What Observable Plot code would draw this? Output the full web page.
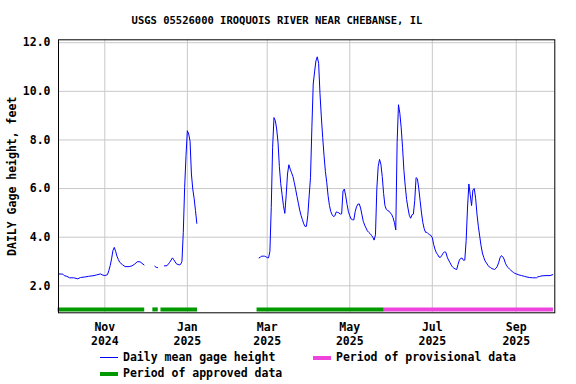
<!DOCTYPE html>
<html>
<head>
<meta charset="utf-8">
<script src="https://cdn.jsdelivr.net/npm/d3@7"></script>
<script src="https://cdn.jsdelivr.net/npm/@observablehq/plot@0.6"></script>
<style>
  body { margin: 0; background: #fff; }
  #wrap { position: relative; width: 576px; height: 384px; overflow: hidden; background: #fff;
          font-family: "DejaVu Sans Mono", monospace; font-weight: bold; color: #000; }
  #title { position: absolute; left: 0; width: 554px; top: 12px; line-height: 16px; font-size: 10.5px; text-align: center; padding-left: 0; }
  #chart { position: absolute; left: 0; top: 30px; }
  .lt { position: absolute; font-size: 11.5px; line-height: 16px; white-space: pre; }
  .sw { position: absolute; }
</style>
</head>
<body>
<div id="wrap">
  <div id="title"></div>
  <div id="chart"></div>
  <div class="sw" style="left:100px;top:357px;width:18px;height:1px;background:#0000ff"></div>
  <div class="lt" id="lg1" style="left:123px;top:349px"></div>
  <div class="sw" style="left:313px;top:356px;width:18px;height:4px;background:#ee44dd"></div>
  <div class="lt" id="lg2" style="left:336px;top:349px"></div>
  <div class="sw" style="left:100px;top:372px;width:18px;height:4px;background:#009900"></div>
  <div class="lt" id="lg3" style="left:123px;top:365px"></div>
</div>
<script>
const titleText = "USGS 05526000 IROQUOIS RIVER NEAR CHEBANSE, IL";
const yLabel = "DAILY Gage height, feet";
const legendLabels = ["Daily mean gage height", "Period of provisional data", "Period of approved data"];

const tickDates = ["2024-11-01", "2025-01-01", "2025-03-01", "2025-05-01", "2025-07-01", "2025-09-01"];
const tickLabels = ["Nov\n2024", "Jan\n2025", "Mar\n2025", "May\n2025", "Jul\n2025", "Sep\n2025"];
const yTicks = [2, 4, 6, 8, 10, 12];

// Daily mean gage height (feet); null marks a gap in the record
const dates = [
  "2024-09-28","2024-10-01","2024-10-02","2024-10-04","2024-10-06","2024-10-09","2024-10-12","2024-10-14",
  "2024-10-18","2024-10-20","2024-10-24","2024-10-26","2024-10-29","2024-10-30","2024-11-01","2024-11-03",
  "2024-11-04","2024-11-05","2024-11-06","2024-11-07","2024-11-08","2024-11-09","2024-11-10","2024-11-11",
  "2024-11-12","2024-11-14","2024-11-16","2024-11-19","2024-11-21","2024-11-23","2024-11-25","2024-11-27",
  "2024-11-30","2024-12-03",
  "2024-12-08","2024-12-09","2024-12-10","2024-12-12",
  "2024-12-15","2024-12-17","2024-12-19","2024-12-21","2024-12-22","2024-12-24","2024-12-26","2024-12-27",
  "2024-12-28","2024-12-29","2024-12-30","2024-12-31","2025-01-01","2025-01-02","2025-01-03","2025-01-04",
  "2025-01-05","2025-01-06","2025-01-07","2025-01-08","2025-02-01",
  "2025-02-23","2025-02-24","2025-02-25","2025-02-26","2025-02-27","2025-02-28","2025-03-01","2025-03-02",
  "2025-03-03","2025-03-04","2025-03-05","2025-03-06","2025-03-07","2025-03-08","2025-03-09","2025-03-10",
  "2025-03-11","2025-03-12","2025-03-13","2025-03-14","2025-03-15","2025-03-16","2025-03-17","2025-03-18",
  "2025-03-19","2025-03-20","2025-03-21","2025-03-22","2025-03-23","2025-03-24","2025-03-25","2025-03-26",
  "2025-03-27","2025-03-28","2025-03-29","2025-03-30","2025-03-31","2025-04-01","2025-04-02","2025-04-03",
  "2025-04-04","2025-04-05","2025-04-06","2025-04-07","2025-04-08","2025-04-09","2025-04-10","2025-04-11",
  "2025-04-12","2025-04-13","2025-04-14","2025-04-15","2025-04-16","2025-04-17","2025-04-18","2025-04-19",
  "2025-04-20","2025-04-21","2025-04-22","2025-04-23","2025-04-24","2025-04-25","2025-04-26","2025-04-27",
  "2025-04-28","2025-04-29","2025-04-30","2025-05-01","2025-05-02","2025-05-03","2025-05-04","2025-05-05",
  "2025-05-06","2025-05-07","2025-05-08","2025-05-09","2025-05-10","2025-05-11","2025-05-12","2025-05-13",
  "2025-05-14","2025-05-15","2025-05-16","2025-05-17","2025-05-18","2025-05-19","2025-05-20","2025-05-21",
  "2025-05-22","2025-05-23","2025-05-24","2025-05-25","2025-05-26","2025-05-27","2025-05-28","2025-05-29",
  "2025-05-30","2025-05-31","2025-06-01","2025-06-02","2025-06-03","2025-06-04","2025-06-05","2025-06-06",
  "2025-06-07","2025-06-08","2025-06-09","2025-06-10","2025-06-11","2025-06-12","2025-06-13","2025-06-14",
  "2025-06-15","2025-06-16","2025-06-17","2025-06-18","2025-06-19","2025-06-20","2025-06-21","2025-06-22",
  "2025-06-23","2025-06-24","2025-06-25","2025-06-26","2025-06-27","2025-06-28","2025-06-29","2025-06-30",
  "2025-07-01","2025-07-02","2025-07-03","2025-07-04","2025-07-05","2025-07-06","2025-07-07","2025-07-08",
  "2025-07-09","2025-07-10","2025-07-11","2025-07-12","2025-07-13","2025-07-14","2025-07-15","2025-07-16",
  "2025-07-17","2025-07-18","2025-07-19","2025-07-20","2025-07-21","2025-07-22","2025-07-23","2025-07-24",
  "2025-07-25","2025-07-26","2025-07-27","2025-07-28","2025-07-29","2025-07-30","2025-07-31","2025-08-01",
  "2025-08-02","2025-08-03","2025-08-04","2025-08-05","2025-08-06","2025-08-07","2025-08-08","2025-08-09",
  "2025-08-10","2025-08-11","2025-08-12","2025-08-13","2025-08-14","2025-08-15","2025-08-16","2025-08-17",
  "2025-08-18","2025-08-19","2025-08-20","2025-08-21","2025-08-22","2025-08-23","2025-08-24","2025-08-25",
  "2025-08-26","2025-08-27","2025-08-28","2025-08-29","2025-08-30","2025-08-31","2025-09-01","2025-09-03",
  "2025-09-05","2025-09-07","2025-09-09","2025-09-11","2025-09-13","2025-09-15","2025-09-16","2025-09-17",
  "2025-09-18","2025-09-20","2025-09-23","2025-09-26","2025-09-28"
];
const heights = [
  2.49,2.48,2.42,2.39,2.33,2.33,2.29,2.34,
  2.37,2.39,2.42,2.45,2.49,2.45,2.42,2.46,
  2.63,2.83,3.11,3.45,3.58,3.42,3.22,3.08,
  2.97,2.87,2.79,2.79,2.82,2.89,2.99,2.99,
  2.86,null,
  2.80,2.76,2.75,null,
  2.82,2.83,2.97,3.15,3.07,2.90,2.86,2.88,
  3.00,4.20,6.05,7.35,8.38,8.24,7.95,6.60,
  5.98,5.60,5.10,4.57,null,
  3.15,3.18,3.22,3.22,3.22,3.20,3.16,3.15,
  3.42,5.23,7.70,8.92,8.79,8.45,7.90,6.90,
  6.20,5.75,5.30,4.98,5.70,6.60,6.98,6.80,
  6.65,6.50,6.25,5.97,5.68,5.40,5.12,4.90,
  4.72,4.55,4.44,4.45,4.90,5.70,6.46,8.50,
  10.30,10.80,11.25,11.42,11.15,9.90,8.95,8.10,
  7.35,6.70,6.25,5.70,5.30,5.05,4.92,4.85,
  4.88,5.04,5.02,5.00,4.95,4.96,5.90,5.98,
  5.70,5.35,5.05,4.88,4.75,4.72,4.71,5.05,
  5.25,5.36,5.37,5.20,4.92,4.65,4.50,4.38,
  4.26,4.20,4.15,4.08,4.00,3.88,4.10,6.00,
  6.90,7.20,7.00,6.50,5.80,5.30,5.14,5.10,
  5.07,5.00,4.93,4.80,4.60,4.30,7.90,9.45,
  9.10,8.50,7.70,6.75,6.10,5.55,5.20,4.90,
  4.78,4.92,4.95,5.50,6.45,6.40,6.00,5.50,
  5.00,4.60,4.35,4.20,4.20,4.14,4.10,4.07,
  3.98,3.70,3.50,3.36,3.28,3.18,3.17,3.25,
  3.34,3.40,3.38,3.18,3.06,2.96,2.85,2.77,
  2.72,2.69,2.67,2.88,3.06,3.13,3.14,3.05,
  3.06,3.86,5.20,6.19,5.75,5.30,5.95,6.00,
  5.60,4.95,4.45,4.05,3.65,3.35,3.17,3.02,
  2.94,2.85,2.78,2.75,2.71,2.69,2.67,2.72,
  2.80,2.95,3.15,3.24,3.20,3.10,2.93,2.82,
  2.75,2.69,2.64,2.59,2.55,2.51,2.49,2.45,
  2.42,2.39,2.36,2.34,2.33,2.33,2.33,2.37,
  2.38,2.41,2.42,2.42,2.46
];

// Data-approval periods (inclusive day ranges)
const approvedStarts = ["2024-09-28", "2024-12-07", "2024-12-13", "2025-02-22"];
const approvedEnds   = ["2024-11-30", "2024-12-10", "2025-01-08", "2025-05-26"];
const provisionalStarts = ["2025-05-27"];
const provisionalEnds   = ["2025-09-28"];

const HALF_DAY = 12 * 3600 * 1000;
const series = dates.map((d, i) => ({date: new Date(d), value: heights[i]}));
const approved = approvedStarts.map((s, i) => ({start: new Date(+new Date(s) - HALF_DAY), end: new Date(+new Date(approvedEnds[i]) + HALF_DAY)}));
const provisional = provisionalStarts.map((s, i) => ({start: new Date(+new Date(s) - HALF_DAY), end: new Date(+new Date(provisionalEnds[i]) + HALF_DAY)}));
const ticks = tickDates.map(d => new Date(d));
const labelByTime = new Map(ticks.map((d, i) => [+d, tickLabels[i]]));

document.getElementById("title").textContent = titleText;
document.getElementById("lg1").textContent = legendLabels[0];
document.getElementById("lg2").textContent = legendLabels[1];
document.getElementById("lg3").textContent = legendLabels[2];

const chart = Plot.plot({
  width: 576,
  height: 320,
  marginTop: 9.3,
  marginBottom: 37.7,
  marginLeft: 58,
  marginRight: 21.7,
  style: {fontFamily: "DejaVu Sans Mono", fontSize: "11.5px", fontWeight: "bold", color: "#000", background: "#fff", overflow: "visible"},
  x: {type: "utc", domain: [new Date(Date.UTC(2024, 8, 27, 19)), new Date(Date.UTC(2025, 8, 29, 12))]},
  y: {domain: [0.89, 12.12]},
  marks: [
    Plot.gridX({ticks: ticks, stroke: "#c8c8c8", strokeOpacity: 1}),
    Plot.gridY({ticks: yTicks, stroke: "#c8c8c8", strokeOpacity: 1}),
    Plot.axisY({ticks: yTicks, tickFormat: d3.format(".1f"), tickSize: 0, tickPadding: 8,
                label: yLabel, labelAnchor: "center", labelArrow: "none", labelOffset: 51}),
    Plot.axisX({ticks: ticks, tickFormat: d => labelByTime.get(+d), tickSize: 0, tickPadding: 8.5,
                lineHeight: 1.22, label: null}),
    Plot.ruleY(approved, {x1: "start", x2: "end", y: 1.03, stroke: "#009900", strokeWidth: 4}),
    Plot.ruleY(provisional, {x1: "start", x2: "end", y: 1.03, stroke: "#ee44dd", strokeWidth: 4}),
    Plot.line(series, {x: "date", y: "value", stroke: "#0000ff", strokeWidth: 1}),
    Plot.frame({stroke: "#000", strokeWidth: 1})
  ]
});
document.getElementById("chart").appendChild(chart);
</script>
</body>
</html>
